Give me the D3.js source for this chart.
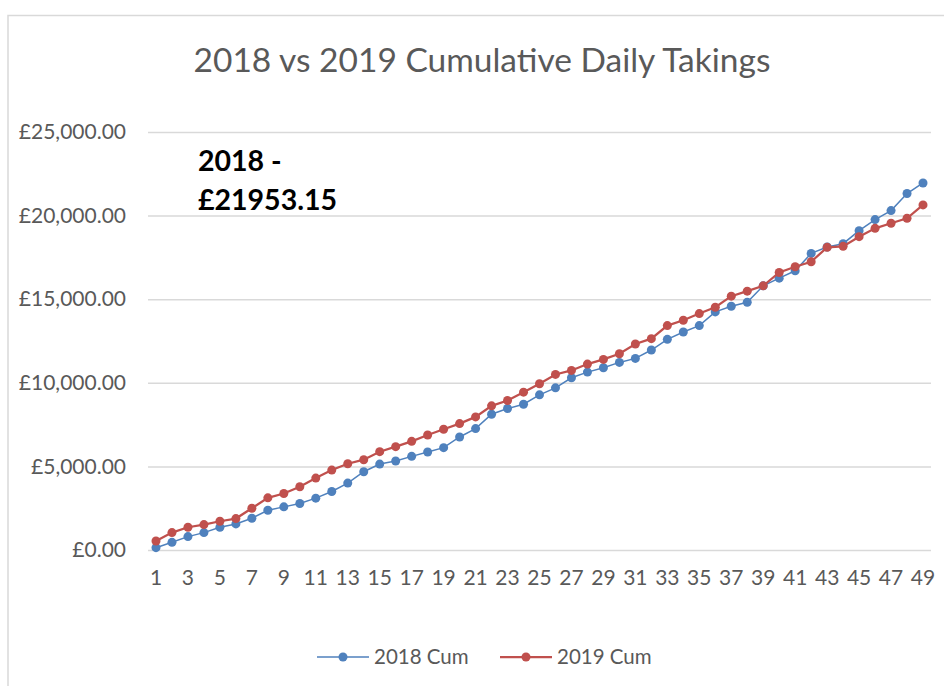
<!DOCTYPE html>
<html>
<head>
<meta charset="utf-8">
<script src="https://cdn.jsdelivr.net/npm/d3@7"></script>
<style>
  body { margin: 0; background: #fff; }
  text { font-family: Lato, "Open Sans", sans-serif; }
</style>
</head>
<body>
<div id="chart"></div>
<script>
// Day numbers 1..49
const days = d3.range(1, 50);

// Cumulative takings (£)
const cum2018 = [138, 460, 800, 1040, 1360, 1560, 1900, 2380, 2580, 2780,
  3100, 3500, 4000, 4680, 5140, 5320, 5600, 5860, 6120, 6760,
  7260, 8120, 8460, 8720, 9280, 9700, 10300, 10640, 10900, 11220,
  11460, 11960, 12600, 13040, 13420, 14240, 14580, 14820, 15800, 16260,
  16700, 17740, 18120, 18320, 19100, 19760, 20300, 21320, 21953.15];

const cum2019 = [540, 1040, 1360, 1520, 1720, 1880, 2500, 3120, 3380, 3780,
  4300, 4780, 5160, 5400, 5880, 6180, 6500, 6880, 7220, 7560,
  7960, 8620, 8940, 9440, 9940, 10500, 10740, 11120, 11400, 11740,
  12320, 12640, 13420, 13740, 14140, 14520, 15180, 15480, 15800, 16600,
  16940, 17240, 18100, 18160, 18740, 19240, 19540, 19840, 20640];

const yTicks = [0, 5000, 10000, 15000, 20000, 25000];

const series = [
  { name: '2018 Cum', values: cum2018, color: '#4F81BD', width: 1.5 },
  { name: '2019 Cum', values: cum2019, color: '#C0504D', width: 2.25 }
];

const W = 944, H = 686;
const plot = { left: 148, right: 931, top: 132, bottom: 550 };

const svg = d3.select('#chart').append('svg')
  .attr('width', W)
  .attr('height', H);

// outer chart border
svg.append('rect')
  .attr('x', 8).attr('y', 15.5)
  .attr('width', W + 20).attr('height', H + 20)
  .attr('fill', 'none')
  .attr('stroke', '#d9d9d9')
  .attr('stroke-width', 1.5);

// Title
svg.append('text')
  .attr('x', 482)
  .attr('y', 72)
  .attr('text-anchor', 'middle')
  .style('font-size', '33.5px')
  .style('fill', '#595959')
  .text('2018 vs 2019 Cumulative Daily Takings');

// Scales
const x = d3.scaleBand()
  .domain(days)
  .range([plot.left, plot.right]);

const y = d3.scaleLinear()
  .domain([0, 25000])
  .range([plot.bottom, plot.top]);

const fmt = v => '£' + d3.format(',.2f')(v);

// Gridlines + y axis labels
const yAxis = svg.append('g')
  .attr('transform', `translate(${plot.left},0)`)
  .call(d3.axisLeft(y).tickValues(yTicks).tickFormat(fmt)
    .tickSize(-(plot.right - plot.left)).tickPadding(22));
yAxis.select('.domain').remove();
yAxis.selectAll('line').attr('stroke', '#d9d9d9').attr('stroke-width', 1.5);
yAxis.selectAll('text')
  .style('font-size', '21px')
  .style('fill', '#595959')
  .style('font-family', 'Lato, "Open Sans", sans-serif');

// x axis labels (odd days only)
const xAxis = svg.append('g')
  .attr('transform', `translate(0,${plot.bottom})`)
  .call(d3.axisBottom(x).tickValues(days.filter(d => d % 2 === 1))
    .tickSize(0).tickPadding(20));
xAxis.select('.domain').remove();
xAxis.selectAll('text')
  .style('font-size', '21px')
  .style('fill', '#595959')
  .style('font-family', 'Lato, "Open Sans", sans-serif');

const cx = d => x(d) + x.bandwidth() / 2;

// Lines and markers
series.forEach(s => {
  const line = d3.line()
    .x((v, i) => cx(days[i]))
    .y(v => y(v));

  svg.append('path')
    .datum(s.values)
    .attr('fill', 'none')
    .attr('stroke', s.color)
    .attr('stroke-width', s.width)
    .attr('d', line);

  svg.append('g')
    .selectAll('circle')
    .data(s.values)
    .join('circle')
    .attr('cx', (v, i) => cx(days[i]))
    .attr('cy', v => y(v))
    .attr('r', 4.5)
    .attr('fill', s.color);
});

// Annotation
const note = svg.append('text')
  .style('font-size', '28.5px')
  .style('font-weight', 'bold')
  .style('fill', '#000');
note.append('tspan').attr('x', 198).attr('y', 171).text('2018 -');
note.append('tspan').attr('x', 198).attr('y', 210).text('£21953.15');

// Legend
const legend = svg.append('g');
const legendItems = [
  { s: series[0], x0: 317 },
  { s: series[1], x0: 500 }
];
legendItems.forEach(({ s, x0 }) => {
  legend.append('line')
    .attr('x1', x0).attr('x2', x0 + 52)
    .attr('y1', 657).attr('y2', 657)
    .attr('stroke', s.color)
    .attr('stroke-width', s.width);
  legend.append('circle')
    .attr('cx', x0 + 26).attr('cy', 657).attr('r', 4.5)
    .attr('fill', s.color);
  legend.append('text')
    .attr('x', x0 + 57)
    .attr('y', 664)
    .style('font-size', '20.5px')
    .style('fill', '#595959')
    .text(s.name);
});
</script>
</body>
</html>
